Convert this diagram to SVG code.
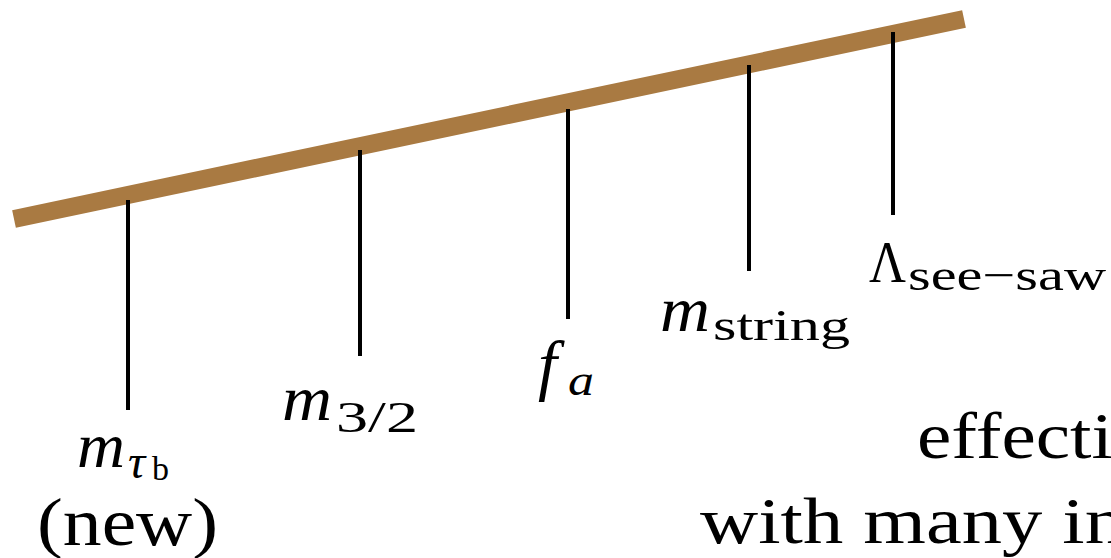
<svg xmlns="http://www.w3.org/2000/svg" width="1111" height="558" viewBox="0 0 1111 558">
<style>
.beam{stroke:#a97a42;stroke-width:18;fill:none}
.tick{stroke:#000;stroke-width:4;fill:none}
.m{font-family:"Liberation Serif",serif;font-style:italic;fill:#000}
.s{font-family:"Liberation Serif",serif;fill:#000}
.t{font-family:"Liberation Serif",serif;fill:#000}
</style>
<rect width="1111" height="558" fill="#fff"/>
<g id="beam"><line class="beam" x1="14" y1="219" x2="964" y2="19"/></g>
<g id="connectors">
<line class="tick" x1="128" y1="200" x2="128" y2="410"/>
<line class="tick" x1="360" y1="150" x2="360" y2="356"/>
<line class="tick" x1="568" y1="109" x2="568" y2="319"/>
<line class="tick" x1="749" y1="65" x2="749" y2="271"/>
<line class="tick" x1="893" y1="32" x2="893" y2="215"/>
</g>
<g id="node-mtau">
<text class="m" x="77" y="467" font-size="64" textLength="48" lengthAdjust="spacingAndGlyphs">m</text>
<text class="m" x="128" y="478" font-size="48">τ</text>
<text class="s" x="152" y="480" font-size="34">b</text>
<text class="t" x="37" y="545" font-size="68" textLength="181" lengthAdjust="spacingAndGlyphs">(new)</text>
</g>
<g id="node-m32">
<text class="m" x="282" y="420" font-size="64" textLength="50" lengthAdjust="spacingAndGlyphs">m</text>
<text class="s" x="336" y="432" font-size="44" textLength="82" lengthAdjust="spacingAndGlyphs">3/2</text>
</g>
<g id="node-fa">
<text class="m" x="538" y="388" font-size="68">f</text>
<text class="m" x="568" y="395" font-size="44" textLength="26" lengthAdjust="spacingAndGlyphs">a</text>
</g>
<g id="node-mstring">
<text class="m" x="660" y="331" font-size="64" textLength="50" lengthAdjust="spacingAndGlyphs">m</text>
<text class="s" x="713" y="340" font-size="44" textLength="137" lengthAdjust="spacingAndGlyphs">string</text>
</g>
<g id="node-lambda">
<text class="s" x="869" y="282" font-size="60" textLength="37" lengthAdjust="spacingAndGlyphs">Λ</text>
<text class="s" x="908" y="290" font-size="44" textLength="198" lengthAdjust="spacingAndGlyphs">see−saw</text>
</g>
<g id="caption">
<text class="t" x="917" y="458" font-size="66" textLength="196" lengthAdjust="spacingAndGlyphs">effecti</text>
<text class="t" x="700" y="543" font-size="66" textLength="425" lengthAdjust="spacingAndGlyphs">with many in</text>
</g>
</svg>
